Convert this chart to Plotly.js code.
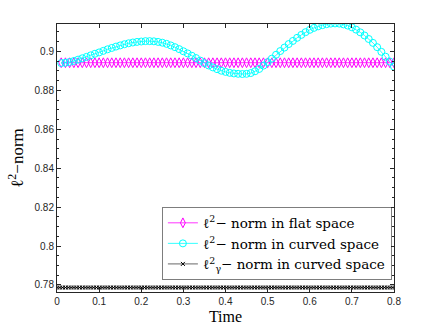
<!DOCTYPE html>
<html>
<head>
<meta charset="utf-8">
<script src="https://cdn.plot.ly/plotly-3.0.1.min.js"></script>
<style>
  html, body { margin: 0; padding: 0; background: #fff; }
  #chart { width: 436px; height: 327px; }
</style>
</head>
<body>
<div id="chart"></div>
<script>
// time grid of the two l2 series (first sample, step) and of the l2_gamma series
const tStart = 0.01, tStep = 0.01;
const tStartGamma = 0, tStepGamma = 0.0067;

// l2 norm in flat space (constant)
const flatNorm = [
  0.8942, 0.8942, 0.8942, 0.8942, 0.8942, 0.8942, 0.8942, 0.8942, 0.8942, 0.8942,
  0.8942, 0.8942, 0.8942, 0.8942, 0.8942, 0.8942, 0.8942, 0.8942, 0.8942, 0.8942,
  0.8942, 0.8942, 0.8942, 0.8942, 0.8942, 0.8942, 0.8942, 0.8942, 0.8942, 0.8942,
  0.8942, 0.8942, 0.8942, 0.8942, 0.8942, 0.8942, 0.8942, 0.8942, 0.8942, 0.8942,
  0.8942, 0.8942, 0.8942, 0.8942, 0.8942, 0.8942, 0.8942, 0.8942, 0.8942, 0.8942,
  0.8942, 0.8942, 0.8942, 0.8942, 0.8942, 0.8942, 0.8942, 0.8942, 0.8942, 0.8942,
  0.8942, 0.8942, 0.8942, 0.8942, 0.8942, 0.8942, 0.8942, 0.8942, 0.8942, 0.8942,
  0.8942, 0.8942, 0.8942, 0.8942, 0.8942, 0.8942, 0.8942, 0.8942, 0.8942, 0.8942
];

// l2 norm in curved space
const curvedNorm = [
  0.8940, 0.8942, 0.8946, 0.8951, 0.8958, 0.8965, 0.8972, 0.8980, 0.8988, 0.8995,
  0.9003, 0.9011, 0.9018, 0.9025, 0.9031, 0.9037, 0.9042, 0.9046, 0.9049, 0.9051,
  0.9053, 0.9053, 0.9052, 0.9049, 0.9045, 0.9039, 0.9031, 0.9022, 0.9012, 0.9001,
  0.8990, 0.8978, 0.8966, 0.8953, 0.8940, 0.8928, 0.8918, 0.8909, 0.8901, 0.8895,
  0.8890, 0.8887, 0.8885, 0.8884, 0.8885, 0.8889, 0.8898, 0.8910, 0.8927, 0.8945,
  0.8963, 0.8983, 0.9002, 0.9020, 0.9038, 0.9054, 0.9070, 0.9085, 0.9099, 0.9111,
  0.9121, 0.9129, 0.9135, 0.9140, 0.9143, 0.9144, 0.9143, 0.9139, 0.9133, 0.9124,
  0.9112, 0.9098, 0.9082, 0.9064, 0.9044, 0.9022, 0.8998, 0.8973, 0.8948, 0.8922
];

// l2_gamma norm in curved space (constant)
const gammaNorm = [
  0.7787, 0.7787, 0.7787, 0.7787, 0.7787, 0.7787, 0.7787, 0.7787, 0.7787, 0.7787, 0.7787,
  0.7787, 0.7787, 0.7787, 0.7787, 0.7787, 0.7787, 0.7787, 0.7787, 0.7787, 0.7787, 0.7787,
  0.7787, 0.7787, 0.7787, 0.7787, 0.7787, 0.7787, 0.7787, 0.7787, 0.7787, 0.7787, 0.7787,
  0.7787, 0.7787, 0.7787, 0.7787, 0.7787, 0.7787, 0.7787, 0.7787, 0.7787, 0.7787, 0.7787,
  0.7787, 0.7787, 0.7787, 0.7787, 0.7787, 0.7787, 0.7787, 0.7787, 0.7787, 0.7787, 0.7787,
  0.7787, 0.7787, 0.7787, 0.7787, 0.7787, 0.7787, 0.7787, 0.7787, 0.7787, 0.7787, 0.7787,
  0.7787, 0.7787, 0.7787, 0.7787, 0.7787, 0.7787, 0.7787, 0.7787, 0.7787, 0.7787, 0.7787,
  0.7787, 0.7787, 0.7787, 0.7787, 0.7787, 0.7787, 0.7787, 0.7787, 0.7787, 0.7787, 0.7787,
  0.7787, 0.7787, 0.7787, 0.7787, 0.7787, 0.7787, 0.7787, 0.7787, 0.7787, 0.7787, 0.7787,
  0.7787, 0.7787, 0.7787, 0.7787, 0.7787, 0.7787, 0.7787, 0.7787, 0.7787, 0.7787, 0.7787,
  0.7787, 0.7787, 0.7787, 0.7787, 0.7787, 0.7787, 0.7787, 0.7787, 0.7787, 0.7787, 0.7787
];

const seriesNames = [
  'ℓ<sup>2</sup>− norm in flat space',
  'ℓ<sup>2</sup>− norm in curved space',
  'ℓ<sup>2</sup><sub>γ</sub>− norm in curved space'
];

const xTicks = [0, 0.1, 0.2, 0.3, 0.4, 0.5, 0.6, 0.7, 0.8];
const xTickText = ['0', '0.1', '0.2', '0.3', '0.4', '0.5', '0.6', '0.7', '0.8'];
const yTicks = [0.78, 0.8, 0.82, 0.84, 0.86, 0.88, 0.9];
const yTickText = ['0.78', '0.8', '0.82', '0.84', '0.86', '0.88', '0.9'];

const serif = 'Liberation Serif, Times New Roman, serif';
const wideSerif = 'DejaVu Serif, serif';
const sans = 'Liberation Sans, Arial, sans-serif';

const traces = [
  {
    y: flatNorm, x0: tStart, dx: tStep,
    name: seriesNames[0], type: 'scatter', mode: 'lines+markers',
    line: { color: '#ff00ff', width: 0.8 },
    marker: { symbol: 'diamond-tall-open', size: 7, color: '#ff00ff', line: { width: 1, color: '#ff00ff' } }
  },
  {
    y: curvedNorm, x0: tStart, dx: tStep,
    name: seriesNames[1], type: 'scatter', mode: 'lines+markers',
    line: { color: '#00ffff', width: 0.8 },
    marker: { symbol: 'circle-open', size: 7, color: '#00ffff', line: { width: 1, color: '#00ffff' } }
  },
  {
    y: gammaNorm, x0: tStartGamma, dx: tStepGamma,
    name: seriesNames[2], type: 'scatter', mode: 'lines+markers',
    line: { color: '#000000', width: 0.6 },
    marker: { symbol: 'x-thin-open', size: 4, color: '#000000', line: { width: 1, color: '#000000' } }
  }
];

const axisCommon = {
  showline: true, linecolor: '#262626', linewidth: 1, mirror: 'ticks',
  ticks: 'inside', ticklen: 4, tickcolor: '#262626',
  showgrid: false, zeroline: false,
  tickfont: { family: sans, size: 10, color: '#262626' }
};

const layout = {
  width: 436, height: 327,
  margin: { l: 57, r: 42, t: 24, b: 35 },
  paper_bgcolor: '#ffffff', plot_bgcolor: '#ffffff',
  showlegend: true,
  legend: {
    x: 0.992, y: 0.045, xanchor: 'right', yanchor: 'bottom',
    bgcolor: '#ffffff', bordercolor: '#262626', borderwidth: 0.6,
    font: { family: wideSerif, size: 13.5, color: '#000000' },
    tracegroupgap: 0, itemwidth: 30
  },
  xaxis: Object.assign({}, axisCommon, {
    range: [0, 0.8], tickvals: xTicks, ticktext: xTickText,
    title: { text: 'Time', font: { family: serif, size: 16, color: '#000000' }, standoff: 4 }
  }),
  yaxis: Object.assign({}, axisCommon, {
    range: [0.7764, 0.9141], tickvals: yTicks, ticktext: yTickText,
    minor: { dtick: 0.005, ticks: 'inside', ticklen: 2, tickcolor: '#262626' },
    title: { text: 'ℓ<sup>2</sup>−norm', font: { family: serif, size: 17, color: '#000000' }, standoff: 6 }
  })
};

Plotly.newPlot('chart', traces, layout, { displayModeBar: false, staticPlot: true });
</script>
</body>
</html>
